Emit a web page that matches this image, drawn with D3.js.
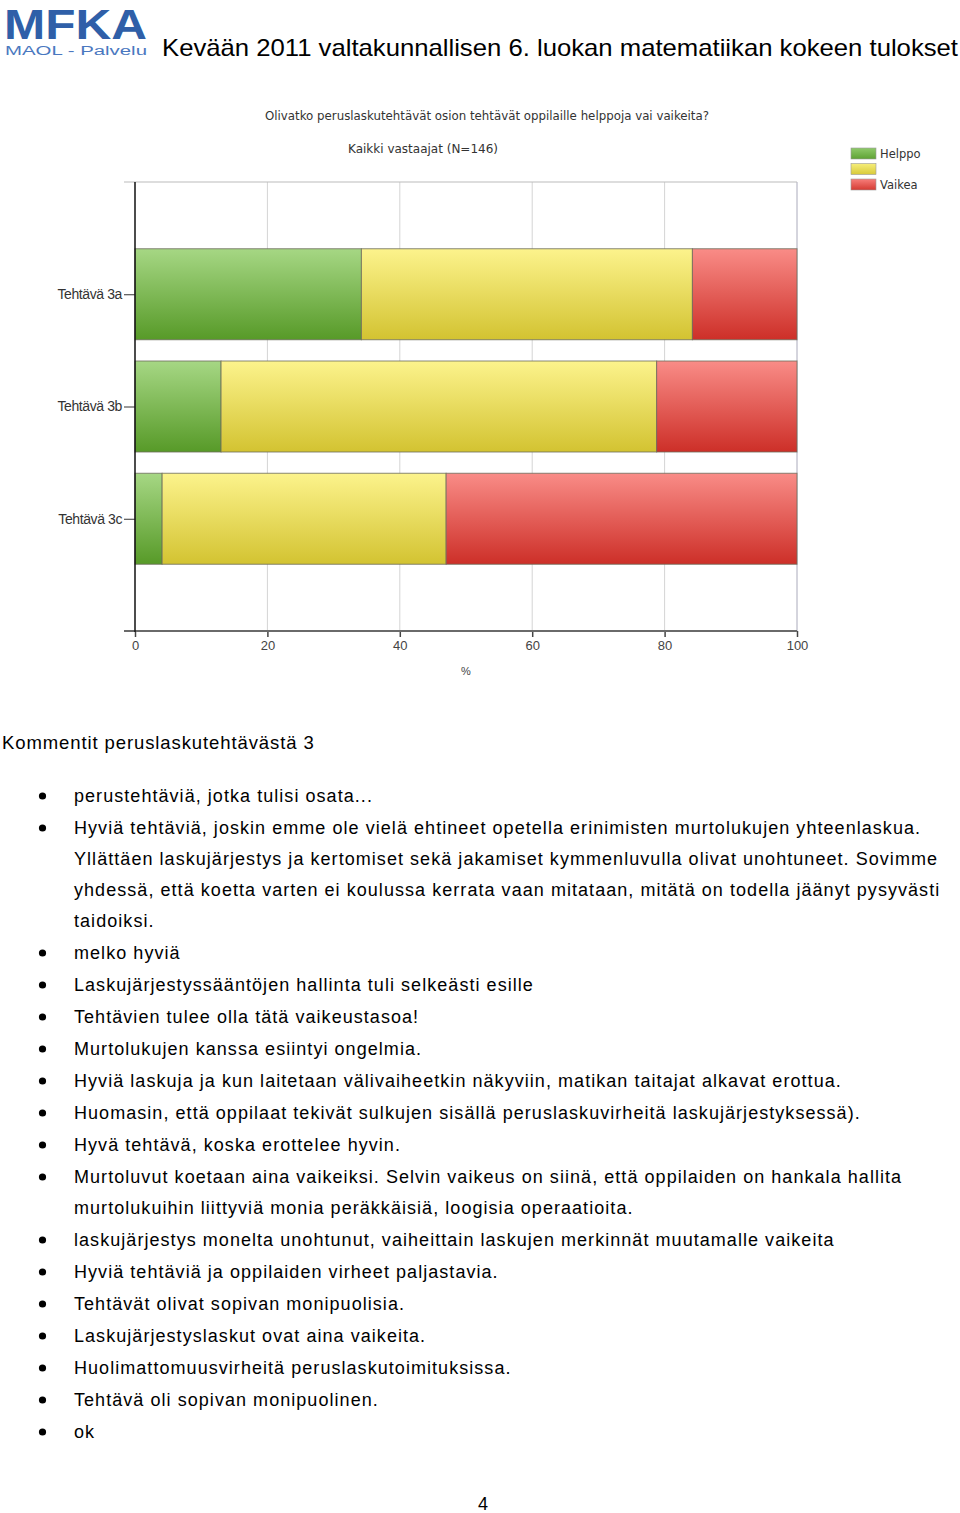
<!DOCTYPE html>
<html><head><meta charset="utf-8">
<script src="https://cdn.jsdelivr.net/npm/d3@7"></script>
<style>body{margin:0;background:#fff}svg{display:block}</style>
</head><body>
<script>
const categories = ["Tehtävä 3a", "Tehtävä 3b", "Tehtävä 3c"];
const seriesNames = ["Helppo", "", "Vaikea"];
const helppo = [34.2, 13.0, 4.1];
const keski = [50.0, 65.8, 42.9];
const vaikea = [15.8, 21.2, 53.0];
const xTicks = [0, 20, 40, 60, 80, 100];
const chartTitle = "Olivatko peruslaskutehtävät osion tehtävät oppilaille helppoja vai vaikeita?";
const chartSubtitle = "Kaikki vastaajat (N=146)";
const pageTitle = "Kevään 2011 valtakunnallisen 6. luokan matematiikan kokeen tulokset";
const commentHeading = "Kommentit peruslaskutehtävästä 3";
const comments = [
  ["perustehtäviä, jotka tulisi osata..."],
  ["Hyviä tehtäviä, joskin emme ole vielä ehtineet opetella erinimisten murtolukujen yhteenlaskua.",
   "Yllättäen laskujärjestys ja kertomiset sekä jakamiset kymmenluvulla olivat unohtuneet. Sovimme",
   "yhdessä, että koetta varten ei koulussa kerrata vaan mitataan, mitätä on todella jäänyt pysyvästi",
   "taidoiksi."],
  ["melko hyviä"],
  ["Laskujärjestyssääntöjen hallinta tuli selkeästi esille"],
  ["Tehtävien tulee olla tätä vaikeustasoa!"],
  ["Murtolukujen kanssa esiintyi ongelmia."],
  ["Hyviä laskuja ja kun laitetaan välivaiheetkin näkyviin, matikan taitajat alkavat erottua."],
  ["Huomasin, että oppilaat tekivät sulkujen sisällä peruslaskuvirheitä laskujärjestyksessä)."],
  ["Hyvä tehtävä, koska erottelee hyvin."],
  ["Murtoluvut koetaan aina vaikeiksi. Selvin vaikeus on siinä, että oppilaiden on hankala hallita",
   "murtolukuihin liittyviä monia peräkkäisiä, loogisia operaatioita."],
  ["laskujärjestys monelta unohtunut, vaiheittain laskujen merkinnät muutamalle vaikeita"],
  ["Hyviä tehtäviä ja oppilaiden virheet paljastavia."],
  ["Tehtävät olivat sopivan monipuolisia."],
  ["Laskujärjestyslaskut ovat aina vaikeita."],
  ["Huolimattomuusvirheitä peruslaskutoimituksissa."],
  ["Tehtävä oli sopivan monipuolinen."],
  ["ok"]
];
const pageNumber = "4";

const W = 960, H = 1513;
const svg = d3.select("body").append("svg").attr("width", W).attr("height", H);
const defs = svg.append("defs");
const gradColors = [["#a6d784", "#579a28"], ["#fcf38c", "#d3c331"], ["#f98c87", "#cd2f28"]];
const legendGrad = [["#8fca6a", "#5ea234"], ["#f6ee7a", "#d8ca3a"], ["#f77e7a", "#d43a33"]];
gradColors.forEach((c, i) => {
  const g = defs.append("linearGradient").attr("id", "g" + i).attr("x1", 0).attr("y1", 0).attr("x2", 0).attr("y2", 1);
  g.append("stop").attr("offset", "0%").attr("stop-color", c[0]);
  g.append("stop").attr("offset", "100%").attr("stop-color", c[1]);
  const l = defs.append("linearGradient").attr("id", "lg" + i).attr("x1", 0).attr("y1", 0).attr("x2", 0).attr("y2", 1);
  l.append("stop").attr("offset", "0%").attr("stop-color", legendGrad[i][0]);
  l.append("stop").attr("offset", "100%").attr("stop-color", legendGrad[i][1]);
});

// Header / logo
const logo = svg.append("g");
logo.append("text").attr("x", 4).attr("y", 39).attr("font-family", "Liberation Sans, Arial, sans-serif")
  .attr("font-weight", "bold").attr("font-size", 43).attr("fill", "#2f5fa8")
  .attr("textLength", 143).attr("lengthAdjust", "spacingAndGlyphs").text("MFKA");
logo.append("text").attr("x", 5).attr("y", 55).attr("font-family", "Liberation Sans, Arial, sans-serif")
  .attr("font-size", 12).attr("fill", "#4a78c0")
  .attr("textLength", 142).attr("lengthAdjust", "spacingAndGlyphs").text("MAOL - Palvelu");
svg.append("text").attr("x", 162).attr("y", 56).attr("font-family", "Liberation Sans, Arial, sans-serif")
  .attr("font-size", 24).attr("fill", "#000")
  .attr("textLength", 796).attr("lengthAdjust", "spacingAndGlyphs").text(pageTitle);

// Chart
const x = d3.scaleLinear().domain([0, 100]).range([135, 797]);
const y = d3.scalePoint().domain(categories).range([182, 631]).padding(1);
const barH = 91;
const font = "Liberation Sans, Arial, sans-serif";

svg.append("text").attr("x", 265).attr("y", 120).attr("font-family", "DejaVu Sans, Verdana, sans-serif")
  .attr("font-size", 11.5).attr("fill", "#333").attr("textLength", 444).attr("lengthAdjust", "spacingAndGlyphs").text(chartTitle);
svg.append("text").attr("x", 348).attr("y", 153).attr("font-family", "DejaVu Sans, Verdana, sans-serif")
  .attr("font-size", 11.5).attr("fill", "#333").attr("textLength", 150).attr("lengthAdjust", "spacingAndGlyphs").text(chartSubtitle);

// gridlines
svg.append("g").selectAll("line").data(xTicks.filter(d => d > 0)).join("line")
  .attr("x1", d => x(d)).attr("x2", d => x(d)).attr("y1", 182).attr("y2", 631)
  .attr("stroke", d => d === 100 ? "#aab" : "#d4d4d4").attr("stroke-width", 1);
svg.append("line").attr("x1", 124).attr("x2", 797).attr("y1", 182).attr("y2", 182).attr("stroke", "#bbb");

// stacked bars
const series = [helppo, keski, vaikea];
const data = categories.map((c, i) => ({ cat: c, vals: series.map(s => s[i]) }));
const stacked = [];
data.forEach(d => {
  let acc = 0;
  d.vals.forEach((v, j) => { stacked.push({ cat: d.cat, j, x0: acc, x1: acc + v }); acc += v; });
});
svg.append("g").selectAll("rect").data(stacked).join("rect")
  .attr("x", d => x(d.x0)).attr("width", d => x(d.x1) - x(d.x0))
  .attr("y", d => y(d.cat) - barH / 2).attr("height", barH)
  .attr("fill", d => `url(#g${d.j})`).attr("stroke", "#6b6b5a").attr("stroke-opacity", 0.8).attr("stroke-width", 1);

// x axis
const xAxis = svg.append("g").attr("transform", "translate(0,631)")
  .call(d3.axisBottom(x).tickValues(xTicks).tickSize(6).tickPadding(4).tickFormat(d3.format("d")));
xAxis.select(".domain").remove();
xAxis.selectAll(".tick line").attr("stroke", "#444").attr("stroke-width", 1.5);
xAxis.selectAll("text").attr("font-family", font).attr("font-size", 13).attr("fill", "#444");
svg.append("line").attr("x1", 124).attr("x2", 797).attr("y1", 631).attr("y2", 631).attr("stroke", "#6a6a6a").attr("stroke-width", 2);
svg.append("text").attr("x", 466).attr("y", 675).attr("text-anchor", "middle").attr("font-family", font)
  .attr("font-size", 11).attr("fill", "#444").text("%");

// y axis
const yAxis = svg.append("g").attr("transform", "translate(135,0)")
  .call(d3.axisLeft(y).tickSize(11).tickPadding(2));
yAxis.select(".domain").remove();
yAxis.selectAll(".tick line").attr("stroke", "#333");
yAxis.selectAll("text").attr("font-family", font).attr("font-size", 14).attr("fill", "#333").attr("letter-spacing", -0.4);
svg.append("line").attr("x1", 135).attr("x2", 135).attr("y1", 182).attr("y2", 632).attr("stroke", "#111").attr("stroke-width", 1.5);

// legend
const leg = svg.append("g").selectAll("g").data(seriesNames).join("g")
  .attr("transform", (d, i) => `translate(851,${148 + i * 15.5})`);
leg.append("rect").attr("width", 25).attr("height", 11).attr("fill", (d, i) => `url(#lg${i})`)
  .attr("stroke", "#999").attr("stroke-width", 0.6);
leg.append("text").attr("x", 29).attr("y", 10).attr("font-family", "DejaVu Sans, Verdana, sans-serif")
  .attr("font-size", 11.5).attr("fill", "#333").text(d => d);

// comments
svg.append("text").attr("x", 2).attr("y", 749).attr("font-family", font).attr("font-size", 18.5)
  .attr("fill", "#000").attr("letter-spacing", 0.9).text(commentHeading);
const lineGap = 31, itemGap = 32;
let cy = 802;
const cg = svg.append("g");
comments.forEach(item => {
  cg.append("circle").attr("cx", 42.5).attr("cy", cy - 6).attr("r", 3.6).attr("fill", "#000");
  item.forEach((ln, k) => {
    cg.append("text").attr("x", 74).attr("y", cy + k * lineGap).attr("font-family", font)
      .attr("font-size", 18).attr("fill", "#000").attr("letter-spacing", 1.05).text(ln);
  });
  cy += (item.length - 1) * lineGap + itemGap;
});
svg.append("text").attr("x", 483).attr("y", 1510).attr("text-anchor", "middle").attr("font-family", font)
  .attr("font-size", 18).attr("fill", "#000").text(pageNumber);
</script>
</body></html>
